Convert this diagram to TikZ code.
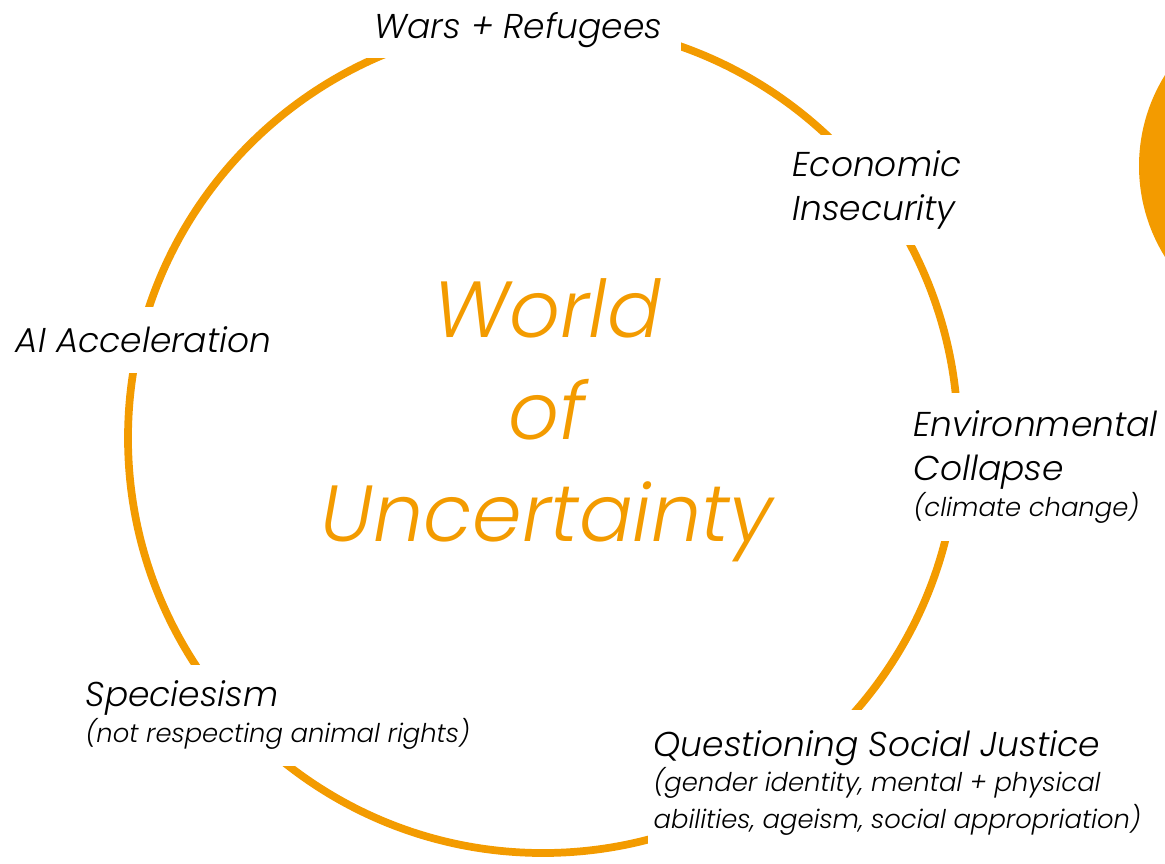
\documentclass[tikz,border=0pt]{standalone}
\usepackage{fontspec}
\newfontfamily\labelfont{Poppins Light Italic}
\newfontfamily\titlefont{Poppins Light Italic}
\definecolor{ringorange}{RGB}{243,155,0}
\tikzset{
    issue/.style = {fill=white, align=left, anchor=west, inner xsep=3pt, inner ysep=0pt,
                    font=\labelfont\fontsize{19.6}{25}\selectfont},
    ring/.style = {draw=ringorange, line width=4.4pt}
}
\newcommand{\subline}[1]{{\fontsize{14.7}{20.4}\selectfont #1}}

\begin{document}
\begin{tikzpicture}[x=0.02cm, y=-0.02cm]
    \useasboundingbox (0,0) rectangle (1165,863);
    \clip (0,0) rectangle (1165,863);

    % the big ring and the disk at the edge
    \draw[ring] (543,438) circle[radius=415];
    \fill[ringorange] (1311,166) circle[radius=172];

    \node[font=\titlefont\fontsize{45.3}{58}\selectfont, text=ringorange, align=center]
        (world) at (547,420) {World\\of\\Uncertainty};

    \node[issue, minimum height=1.12cm, inner xsep=11pt] (wars) at (355,30) {Wars + Refugees};
    \node[issue, minimum height=2.2cm] (econ) at (787,190) {Economic\\Insecurity};
    \node[issue, minimum height=1.32cm] (ai) at (0,340) {\hspace{5.7pt}AI Acceleration};
    \node[issue, minimum height=2.96cm] (env) at (908,467)
        {Environmental\\Collapse\\[-4.5pt]\subline{(climate change)}};
    \node[issue, minimum height=2.02cm] (spec) at (80,715)
        {Speciesism\\[-5pt]\subline{(not respecting animal rights)}};
    \node[issue, minimum height=2.94cm] (soc) at (648,783)
        {Questioning Social Justice\\[-5.2pt]\subline{(gender identity, mental + physical}\\[-4pt]
         \subline{abilities, ageism, social appropriation)}};

\end{tikzpicture}
\end{document}
